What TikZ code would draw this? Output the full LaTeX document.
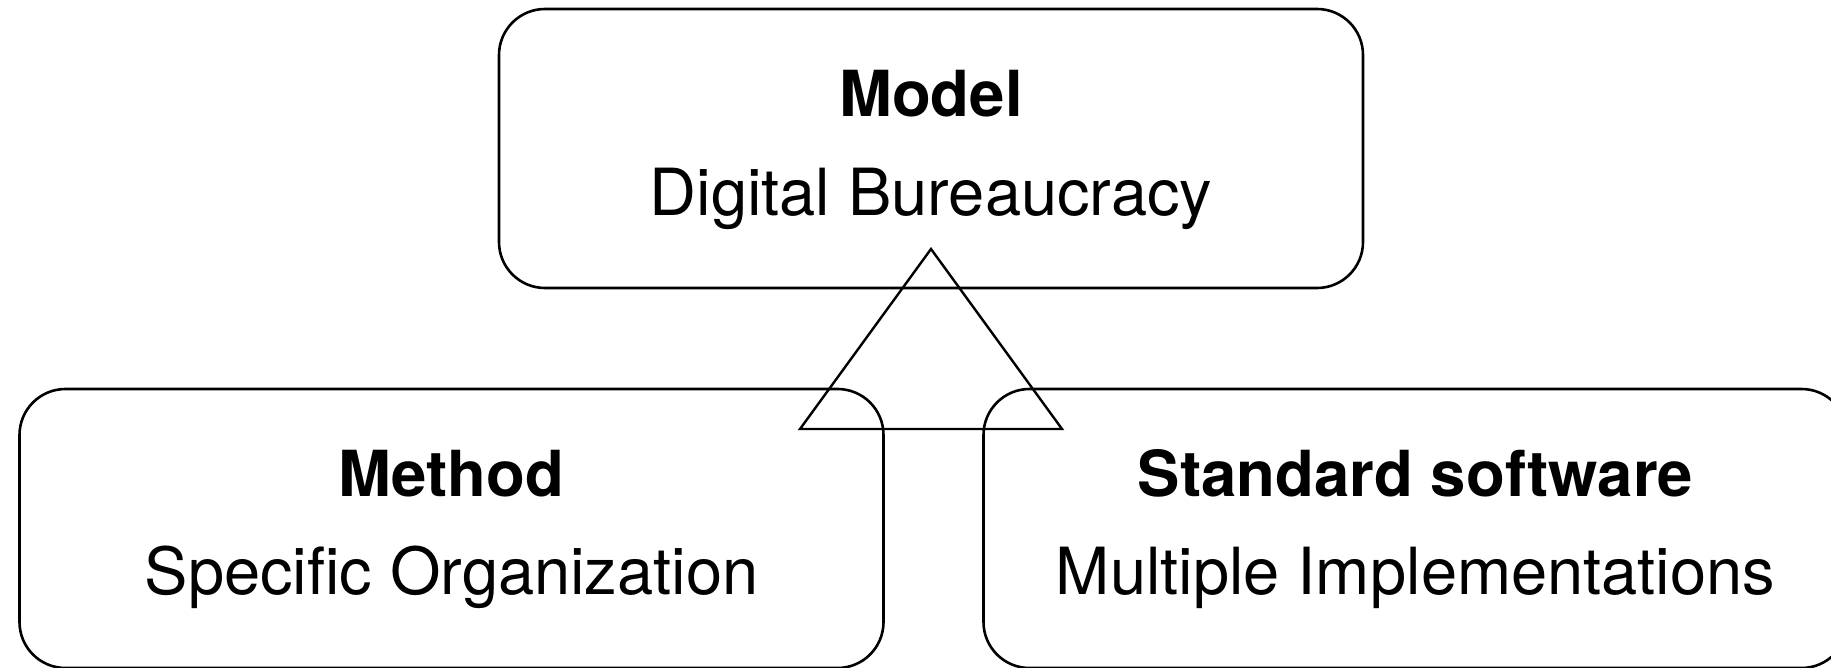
\documentclass[tikz,border=0pt]{standalone}
\usepackage{fontspec}
\setmainfont{TeX Gyre Heros}
\begin{document}
\begin{tikzpicture}[x=1pt,y=-1pt,
  box/.style={draw, line width=2.6pt, rounded corners=46pt, inner sep=0pt, minimum width=864pt, minimum height=279pt},
  ttl/.style={anchor=base, inner sep=0pt, font=\fontsize{63.5}{70}\selectfont\bfseries},
  sub/.style={anchor=base, inner sep=0pt, font=\fontsize{65}{70}\selectfont},
  tri/.style={draw, line width=2.4pt, line join=miter}]
\useasboundingbox (0,0) rectangle (1831,668);
\clip (0,0) rectangle (1831,668);
\node[box] (model) at (931,148.5) {};
\node[box] (method) at (451.5,528.5) {};
\node[box] (software) at (1415.5,528.5) {};
\node[ttl] (modelT) at (931,117) {Model};
\node[sub] (modelS) at (931,216) {Digital Bureaucracy};
\node[ttl] (methodT) at (451.5,496) {Method};
\node[sub] (methodS) at (451.5,594) {Specific Organization};
\node[ttl] (softT) at (1415.5,496) {Standard software};
\node[sub] (softS) at (1415.5,594) {Multiple Implementations};
\coordinate (apex) at (931,249);
\coordinate (bl) at (800,429);
\coordinate (br) at (1062,429);
\draw[tri] (apex) -- (bl) -- (br) -- cycle;
\end{tikzpicture}
\end{document}
